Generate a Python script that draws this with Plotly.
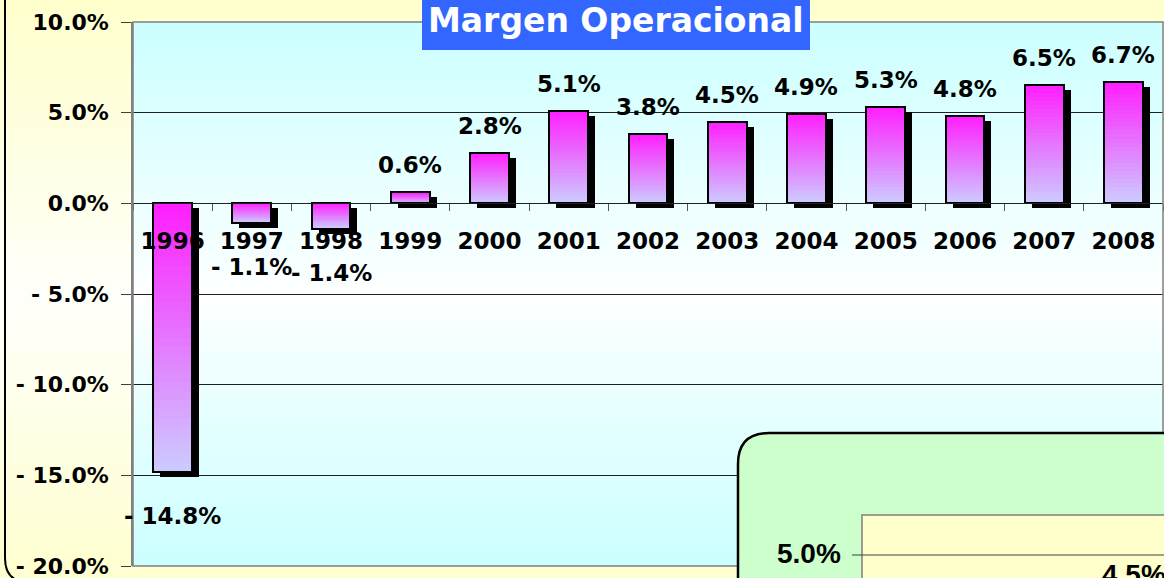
import plotly.graph_objects as go

# ---------------- data ----------------
years = ["1996", "1997", "1998", "1999", "2000", "2001", "2002",
         "2003", "2004", "2005", "2006", "2007", "2008"]
margin_pct = [-14.8, -1.1, -1.4, 0.6, 2.8, 5.1, 3.8, 4.5, 4.9, 5.3, 4.8, 6.5, 6.7]
y_tick_vals = [10, 5, 0, -5, -10, -15, -20]
y_tick_text = ["10.0%", "5.0%", "0.0%", "- 5.0%", "- 10.0%", "- 15.0%", "- 20.0%"]
title_text = "Margen Operacional"
inset_tick_label = "5.0%"
inset_value_label = "4.5%"

# ---------------- layout helpers ----------------
W_FIG, H_FIG = 1164, 578
ML, MR, MT, MB = 133, 1, 22, 12
PW, PH = W_FIG - ML - MR, H_FIG - MT - MB


def PX(px):
    return (px - ML) / PW


def PY(py):
    return (H_FIG - MB - py) / PH


FONT = "DejaVu Sans"
BAR_W = 0.49
SHADOW_DX = 7 / (PW / len(years))
SHADOW_DY = 5 / (PH / 30.0)
TOP_C = (255, 30, 255)
BOT_C = (204, 204, 255)
N_SEG = 30


def mix(c1, c2, t):
    return "rgb(%d,%d,%d)" % tuple(round(a + (b - a) * t) for a, b in zip(c1, c2))


fig = go.Figure()

# shadow
fig.add_trace(go.Bar(
    x=years, y=margin_pct, base=[-SHADOW_DY] * len(years),
    width=BAR_W, offset=-BAR_W / 2 + SHADOW_DX,
    marker=dict(color="black", line=dict(width=0)),
    hoverinfo="skip", showlegend=False))

# gradient body (each bar split in slices of its own value)
for k in range(N_SEG):
    bases, heights, cols = [], [], []
    for v in margin_pct:
        bases.append(v * k / N_SEG)
        heights.append(v / N_SEG)
        frac = (k + 0.5) / N_SEG
        t = frac if v >= 0 else 1 - frac   # t=1 -> top colour
        cols.append(mix(BOT_C, TOP_C, t))
    fig.add_trace(go.Bar(
        x=years, y=heights, base=bases, width=BAR_W, offset=-BAR_W / 2,
        marker=dict(color=cols, line=dict(width=0)),
        hoverinfo="skip", showlegend=False))

# outline
fig.add_trace(go.Bar(
    x=years, y=margin_pct, width=BAR_W, offset=-BAR_W / 2,
    marker=dict(color="rgba(0,0,0,0)", line=dict(color="black", width=2)),
    hovertemplate="%{x}: %{y:.1f}%<extra></extra>", showlegend=False))

# ---------------- background shapes ----------------
shapes = []
# paper gradient (yellow - white - yellow)
YEL = (255, 255, 204)
WHT = (255, 255, 250)
n_strip = 60
for i in range(n_strip):
    y0 = -5 + i * (H_FIG + 10) / n_strip
    y1 = y0 + (H_FIG + 10) / n_strip + 1
    mid = (y0 + y1) / 2
    t = abs(mid - 300) / 300
    shapes.append(dict(type="rect", xref="paper", yref="paper", layer="below",
                       x0=PX(-5), x1=PX(W_FIG + 5), y0=PY(y1), y1=PY(y0),
                       fillcolor=mix(WHT, YEL, min(t, 1)), line=dict(width=0)))
# plot-area gradient (cyan - white - cyan)
CYN = (204, 255, 255)
WH2 = (255, 255, 255)
for i in range(n_strip):
    v0 = -20 + i * 30 / n_strip
    v1 = v0 + 30 / n_strip
    mid = (v0 + v1) / 2
    t = (mid + 5) / 15 if mid > -5 else (-5 - mid) / 15
    shapes.append(dict(type="rect", xref="paper", yref="y", layer="below",
                       x0=0, x1=1, y0=v0, y1=v1 + 0.05,
                       fillcolor=mix(WH2, CYN, min(t, 1) ** 0.9), line=dict(width=0)))

# plot border
shapes.append(dict(type="rect", xref="paper", yref="paper", layer="above",
                   x0=0, x1=1, y0=0, y1=1, line=dict(color="#808080", width=1.5)))
# left rounded chart border
shapes.append(dict(type="path", xref="paper", yref="paper", layer="above",
                   path="M %f %f L %f %f Q %f %f %f %f L %f %f" % (
                       PX(5), PY(-10), PX(5), PY(558), PX(5), PY(582),
                       PX(28), PY(582), PX(1200), PY(582)),
                   line=dict(color="black", width=2)))
# title box
shapes.append(dict(type="rect", xref="paper", yref="paper", layer="above",
                   x0=PX(422), x1=PX(810), y0=PY(50), y1=PY(-10),
                   fillcolor="#3366FF", line=dict(width=0)))
# inset chart box
shapes.append(dict(type="path", xref="paper", yref="paper", layer="above",
                   path="M %f %f L %f %f Q %f %f %f %f L %f %f L %f %f Z" % (
                       PX(738), PY(600), PX(738), PY(464), PX(738), PY(433),
                       PX(769), PY(433), PX(1200), PY(433), PX(1200), PY(600)),
                   fillcolor="#CCFFCC", line=dict(color="black", width=2.5)))
shapes.append(dict(type="rect", xref="paper", yref="paper", layer="above",
                   x0=PX(862), x1=PX(1200), y0=PY(600), y1=PY(515),
                   fillcolor="#FFFFCC", line=dict(color="#808080", width=1.5)))
shapes.append(dict(type="line", xref="paper", yref="paper", layer="above",
                   x0=PX(852), x1=PX(1200), y0=PY(555), y1=PY(555),
                   line=dict(color="#404040", width=1.2)))

# ---------------- annotations ----------------
ann = []
for i, v in enumerate(margin_pct):
    if v >= 0:
        ann.append(dict(x=i, y=v, xref="x", yref="y", text="%.1f%%" % v,
                        showarrow=False, yanchor="middle", yshift=27,
                        font=dict(family=FONT, size=23, color="black", weight="bold")))
    else:
        ann.append(dict(x=i, y=v, xref="x", yref="y", text="- %.1f%%" % abs(v),
                        showarrow=False, yanchor="middle", yshift=-44,
                        font=dict(family=FONT, size=23, color="black", weight="bold")))
ann.append(dict(x=PX(616), y=PY(20), xref="paper", yref="paper", text=title_text,
                showarrow=False, xanchor="center", yanchor="middle",
                font=dict(family=FONT, size=33, color="white", weight="bold")))
ann.append(dict(x=PX(843), y=PY(553), xref="paper", yref="paper", text=inset_tick_label,
                showarrow=False, xanchor="right", yanchor="middle",
                font=dict(family="Liberation Sans", size=28, color="black", weight="bold")))
ann.append(dict(x=PX(1100), y=PY(574), xref="paper", yref="paper", text=inset_value_label,
                showarrow=False, xanchor="left", yanchor="middle",
                font=dict(family="Liberation Sans", size=28, color="black", weight="bold")))

fig.update_layout(
    width=W_FIG, height=H_FIG,
    margin=dict(l=ML, r=MR, t=MT, b=MB, pad=0, autoexpand=False),
    paper_bgcolor="#FFFFE8", plot_bgcolor="rgba(0,0,0,0)",
    barmode="overlay", bargap=0,
    shapes=shapes, annotations=ann,
    font=dict(family=FONT, size=22, color="black"),
    xaxis=dict(type="category", anchor="free", position=2 / 3,
               range=[-0.5, len(years) - 0.5], automargin=False,
               showline=True, linecolor="#202020", linewidth=1,
               ticks="outside", tickson="boundaries", ticklen=7, tickcolor="#555555",
               ticklabelstandoff=17, showgrid=False,
               tickfont=dict(family=FONT, size=23, color="black", weight="bold")),
    yaxis=dict(range=[-20, 10], domain=[0, 1], tickvals=y_tick_vals, ticktext=y_tick_text,
               automargin=False,
               showgrid=True, gridcolor="#202020", gridwidth=1, zeroline=False,
               showline=True, linecolor="#808080", linewidth=1.5,
               ticks="outside", ticklen=10, tickcolor="#404040",
               ticklabelstandoff=8, ticklabeloverflow="allow",
               tickfont=dict(family=FONT, size=22, color="black", weight="bold")),
)

fig.write_html("out.html", config={"displayModeBar": False},
               post_script="document.body.style.margin='0px';document.body.style.overflow='hidden';")
